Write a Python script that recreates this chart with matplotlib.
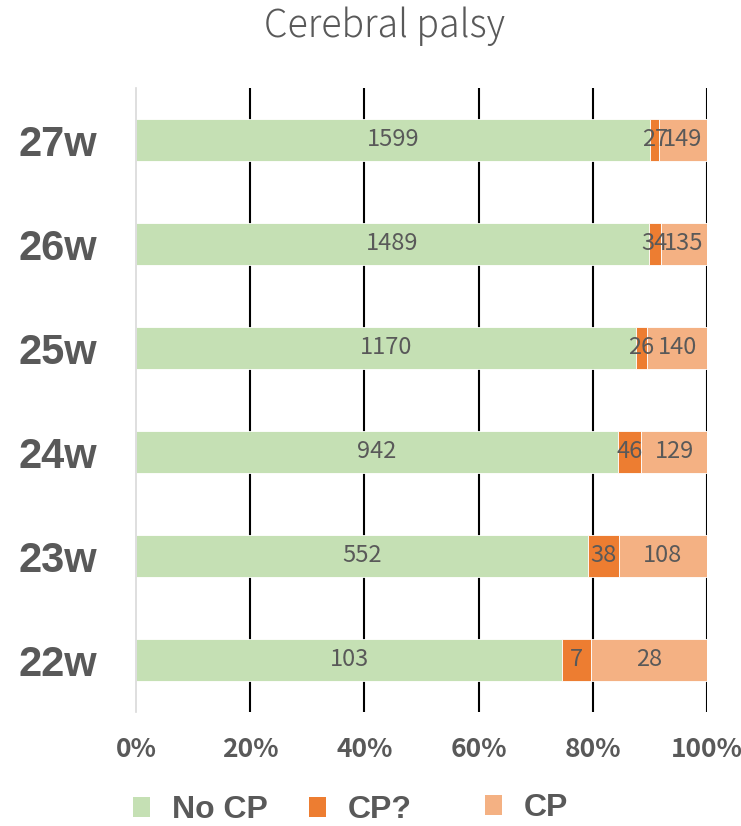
import matplotlib
matplotlib.use("Agg")
import matplotlib.pyplot as plt
from matplotlib.patches import Patch
import numpy as np

plt.rcParams['font.family'] = ['Noto Sans CJK JP', 'DejaVu Sans']

weeks = ["22w", "23w", "24w", "25w", "26w", "27w"]
no_cp = [103, 552, 942, 1170, 1489, 1599]
cp_q = [7, 38, 46, 26, 34, 27]
cp = [28, 108, 129, 140, 135, 149]
series_names = ["No CP", "CP?", "CP"]
colors = ["#C5E0B4", "#ED7D31", "#F4B183"]
tick_labels = ["0%", "20%", "40%", "60%", "80%", "100%"]

grey = "#595959"
W, H = 741, 826

fig = plt.figure(figsize=(W / 100, H / 100), dpi=100)
ax = fig.add_axes([136 / W, 1 - 712 / H, (707 - 136) / W, (712 - 88) / H])

data = np.array([no_cp, cp_q, cp], dtype=float)
totals = data.sum(axis=0)
shares = data / totals * 100
y = np.arange(len(weeks))

left = np.zeros(len(weeks))
for i in range(3):
    bars = ax.barh(y, shares[i], left=left, height=0.40, color=colors[i],
                   edgecolor="white", linewidth=0.6, zorder=3)
    for j, b in enumerate(bars):
        cx = left[j] + shares[i][j] / 2
        ax.text(cx, y[j], f"{int(data[i][j])}", ha="center", va="center",
                fontsize=17, color=grey, zorder=4)
    left += shares[i]

ax.set_xlim(0, 100)
ax.set_ylim(-0.5, len(weeks) - 0.5)
ax.set_xticks(np.arange(0, 101, 20))
ax.set_xticklabels(tick_labels, fontsize=19, fontweight="bold", color=grey)
ax.set_yticks(y)
ax.set_yticklabels(weeks, fontsize=30, fontweight="bold", color=grey,
                   family=["Liberation Sans", "DejaVu Sans"])
ax.tick_params(axis="both", length=0)
ax.tick_params(axis="x", pad=17)
ax.tick_params(axis="y", pad=28)

for v in range(20, 101, 20):
    ax.axvline(v, color="black", linewidth=1.5, zorder=1)

for s in ["top", "right", "bottom"]:
    ax.spines[s].set_visible(False)
ax.spines["left"].set_color("#D9D9D9")
ax.spines["left"].set_linewidth(1.2)
ax.spines["left"].set_zorder(5)

fig.text(385 / W, 1 - 26 / H, "Cerebral palsy", ha="center", va="center",
         fontsize=27, fontweight="light", color=grey)

# one legend entry per column, placed like the original layout
entry_x = [133, 309, 485]
entry_y = [810, 810, 808]
for name, c, ex, ey in zip(series_names, colors, entry_x, entry_y):
    leg = fig.legend([Patch(facecolor=c, edgecolor="none")], [name],
                     loc="center left", bbox_to_anchor=(ex / W, 1 - ey / H),
                     frameon=False, borderpad=0, borderaxespad=0,
                     handlelength=0.53, handleheight=0.6, handletextpad=0.69,
                     prop={"size": 23, "weight": "bold",
                           "family": ["Liberation Sans", "DejaVu Sans"]})
    for t in leg.get_texts():
        t.set_color(grey)

fig.savefig("out.png", dpi=100)
